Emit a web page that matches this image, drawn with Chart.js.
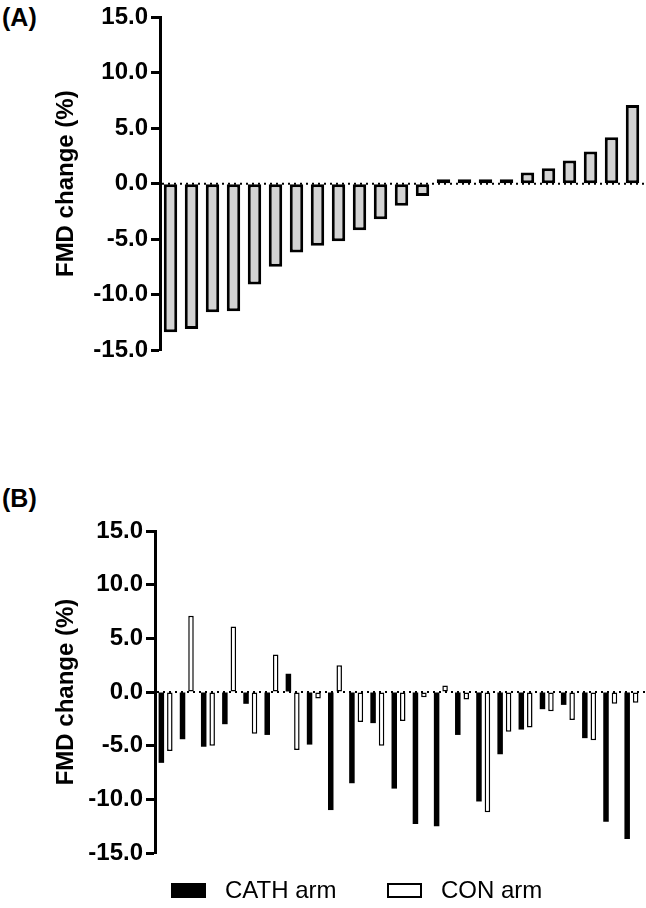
<!DOCTYPE html>
<html>
<head>
<meta charset="utf-8">
<script src="https://cdn.jsdelivr.net/npm/chart.js@4.4.1/dist/chart.umd.min.js"></script>
<style>
  body { margin: 0; background: #fff; width: 646px; height: 908px; overflow: hidden; position: relative;
         font-family: Arial, "Liberation Sans", sans-serif; color: #000; }
  .panel-label { position: absolute; left: 2px; font-weight: bold; font-size: 25px; line-height: 25px; }
  #wrapA { position: absolute; left: 0; top: 0; }
  #wrapB { position: absolute; left: 0; top: 440px; }
  .legend-item { position: absolute; top: 878px; display: flex; align-items: center; font-size: 24px; line-height: 24px; }
  .legend-box { width: 35px; height: 15px; margin-right: 19px; box-sizing: border-box; }
</style>
</head>
<body>
<div class="panel-label" style="top:5px">(A)</div>
<div class="panel-label" style="top:486px">(B)</div>
<div id="wrapA"><canvas id="chartA" width="646" height="440"></canvas></div>
<div id="wrapB"><canvas id="chartB" width="646" height="468"></canvas></div>
<div id="legend"></div>
<script>
// participants, one bar (A) or pair of bars (B) each
var participants = ['1','2','3','4','5','6','7','8','9','10','11','12','13','14','15','16','17','18','19','20','21','22','23'];

// (A) FMD change, sorted
var fmdChange = [-13.4, -13.1, -11.6, -11.5, -9.1, -7.5, -6.2, -5.6, -5.2, -4.2, -3.2, -2.0, -1.1,
                 0.4, 0.4, 0.4, 0.4, 1.0, 1.4, 2.1, 2.9, 4.2, 7.1];

// (B) FMD change per arm
var cathArm = [-6.6, -4.4, -5.1, -3.0, -1.1, -4.0, 1.7, -4.9, -11.0, -8.5, -2.9, -9.0, -12.3, -12.5,
               -4.0, -10.2, -5.8, -3.5, -1.6, -1.2, -4.3, -12.1, -13.7];
var conArm = [-5.5, 7.1, -5.0, 6.1, -3.9, 3.5, -5.4, -0.6, 2.5, -2.8, -5.0, -2.7, -0.5, 0.6,
              -0.7, -11.2, -3.7, -3.3, -1.8, -2.6, -4.5, -1.1, -1.0];

var seriesNames = ['CATH arm', 'CON arm'];
var yTicks = [-15, -10, -5, 0, 5, 10, 15];

var FONT = 'Arial, "Liberation Sans", sans-serif';

function yAxis(width) {
  return {
    min: -15,
    max: 15,
    afterBuildTicks: function (scale) {
      scale.ticks = yTicks.map(function (v) { return { value: v }; });
    },
    ticks: {
      color: '#000',
      padding: 3,
      font: { family: FONT, size: 24, weight: 'bold' },
      callback: function (v) { return Number(v).toFixed(1); }
    },
    grid: { drawOnChartArea: false, tickLength: 9, tickWidth: 3, tickColor: '#000' },
    border: { color: '#000', width: 3 },
    title: {
      display: true,
      text: 'FMD change (%)',
      color: '#000',
      font: { family: FONT, size: 24, weight: 'bold' },
      padding: { top: 52, bottom: 0 }
    },
    afterFit: function (scale) { scale.width = width; }
  };
}

// dotted line at 0
var zeroLine = {
  id: 'zeroLine',
  afterDatasetsDraw: function (chart) {
    var y = chart.scales.y.getPixelForValue(0);
    var a = chart.chartArea;
    var c = chart.ctx;
    c.save();
    c.strokeStyle = '#000';
    c.lineWidth = 2;
    c.setLineDash([2, 4]);
    c.beginPath();
    c.moveTo(a.left + 2, y);
    c.lineTo(a.right + 3, y);
    c.stroke();
    c.restore();
  }
};

// html legend built from the chart's datasets
var htmlLegend = {
  id: 'htmlLegend',
  afterUpdate: function (chart) {
    var box = document.getElementById('legend');
    box.innerHTML = '';
    var lefts = [171, 387];
    chart.data.datasets.forEach(function (ds, i) {
      var item = document.createElement('div');
      item.className = 'legend-item';
      item.style.left = lefts[i] + 'px';
      var sw = document.createElement('span');
      sw.className = 'legend-box';
      sw.style.background = ds.backgroundColor;
      sw.style.border = (ds.borderWidth ? 2 : 0) + 'px solid ' + ds.borderColor;
      var tx = document.createElement('span');
      tx.textContent = ds.label;
      item.appendChild(sw);
      item.appendChild(tx);
      box.appendChild(item);
    });
  }
};

new Chart(document.getElementById('chartA'), {
  type: 'bar',
  data: {
    labels: participants,
    datasets: [{
      label: 'FMD change',
      data: fmdChange,
      backgroundColor: '#d3d3d3',
      borderColor: '#000',
      borderWidth: 3,
      borderSkipped: false,
      barPercentage: 0.8,
      categoryPercentage: 0.8
    }]
  },
  options: {
    responsive: false,
    animation: false,
    layout: { padding: { top: 17, bottom: 90, left: 0, right: 3 } },
    plugins: { legend: { display: false }, tooltip: { enabled: false } },
    scales: {
      x: { display: false },
      y: yAxis(160)
    }
  },
  plugins: [zeroLine]
});

new Chart(document.getElementById('chartB'), {
  type: 'bar',
  data: {
    labels: participants,
    datasets: [{
      label: seriesNames[0],
      data: cathArm,
      backgroundColor: '#000',
      borderColor: '#000',
      borderWidth: 0,
      borderSkipped: false,
      barPercentage: 0.65,
      categoryPercentage: 0.8
    }, {
      label: seriesNames[1],
      data: conArm,
      backgroundColor: '#fff',
      borderColor: '#000',
      borderWidth: 1.5,
      borderSkipped: false,
      barPercentage: 0.65,
      categoryPercentage: 0.8
    }]
  },
  options: {
    responsive: false,
    animation: false,
    layout: { padding: { top: 91, bottom: 55, left: 0, right: 4 } },
    plugins: { legend: { display: false }, tooltip: { enabled: false } },
    scales: {
      x: { display: false },
      y: yAxis(155)
    }
  },
  plugins: [zeroLine, htmlLegend]
});
</script>
</body>
</html>
